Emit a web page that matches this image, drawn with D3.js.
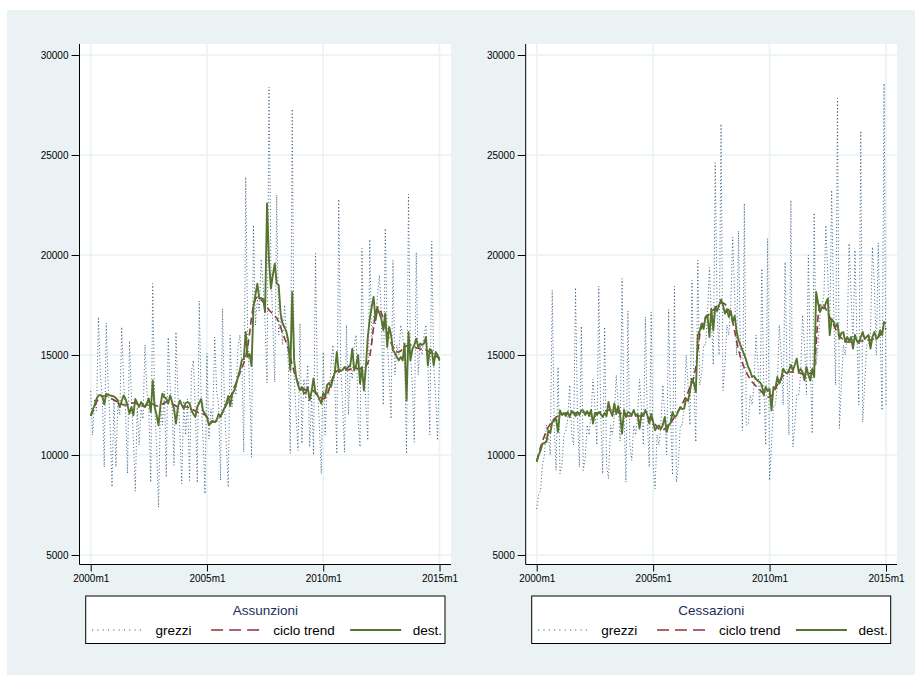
<!DOCTYPE html>
<html><head><meta charset="utf-8">
<script src="https://cdn.jsdelivr.net/npm/d3@7"></script>
<style>body{margin:0;background:#fff}svg{display:block}text{font-family:"Liberation Sans",Arial,Helvetica,sans-serif}</style>
</head><body><svg id="c" width="915" height="675"></svg>
<script>
const xTickIdx = [0, 60, 120, 180];
const xTickLabels = ["2000m1", "2005m1", "2010m1", "2015m1"];
const yTicks = [5000, 10000, 15000, 20000, 25000, 30000];
const seriesNames = ["grezzi", "ciclo trend", "dest."];
const panelTitles = ["Assunzioni", "Cessazioni"];

const assRaw = [
13200,11000,12800,12200,16900,14000,12900,9400,16600,13500,11600,8400,
12800,9400,12600,12000,16400,13600,12200,9080,15700,12900,10800,8190,
12400,10500,12300,11800,15500,13200,12300,8640,18570,12700,10400,7390,
12600,11500,13200,8890,15880,13400,12500,9480,16150,13000,11200,8560,
12700,11000,12800,8730,14200,14730,12200,8610,17700,12900,10800,8060,
15080,10800,12300,11800,15900,13200,12500,8730,17320,12600,10500,8390,
15980,12400,13500,13000,15330,16000,14500,10140,23900,16000,13500,9890,
21500,16500,17800,17200,19800,18500,16600,13600,28400,19500,16500,13650,
23000,16000,17000,15500,17500,16200,14500,10080,27300,14000,12000,10230,
16580,10570,13800,12800,14500,10400,13000,10000,20080,13500,11500,9060,
15150,11000,13500,13000,14500,15500,13500,10060,22790,14500,12500,10140,
16500,12000,14500,13800,15500,16000,11730,10400,20330,14500,12500,10730,
20780,15500,17000,16500,18000,19000,17000,12500,21330,16000,14000,11810,
19740,14000,15500,15000,16500,16000,15000,10060,23040,15000,13500,10640,
20130,14000,15500,15000,16000,16500,14500,11000,20690,14500,13000,10730,
14900];
const assTrend = [
11950,12150,12400,12650,12800,12900,12950,12950,12950,12900,12850,12800,
12750,12700,12650,12600,12550,12500,12500,12500,12550,12600,12600,12600,
12550,12500,12450,12450,12450,12500,12550,12550,12550,12500,12450,12450,
12500,12550,12600,12650,12650,12600,12550,12500,12450,12400,12400,12400,
12400,12400,12400,12350,12300,12250,12200,12150,12100,12100,12050,12000,
11900,11800,11700,11650,11650,11700,11800,11950,12100,12300,12500,12700,
12900,13100,13350,13600,13850,14100,14350,14600,14900,15400,16100,16900,
17500,17800,17900,17850,17750,17650,17550,17400,17250,17150,17050,16950,
16850,16650,16400,16100,15850,15600,15300,14900,14500,14150,13850,13600,
13450,13350,13300,13250,13250,13250,13250,13200,13150,13050,12950,12850,
12800,12850,13000,13300,13600,13900,14100,14200,14250,14250,14250,14250,
14250,14250,14300,14300,14350,14350,14300,14300,14350,14400,14450,14600,
14900,15600,16400,17100,17400,17350,17100,16800,16400,16100,15800,15600,
15400,15250,15150,15150,15200,15300,15400,15450,15500,15500,15450,15400,
15350,15350,15300,15300,15300,15250,15200,15150,15050,15000,14950,14900,
14850];
const assSa = [
11980,12250,12500,12800,12980,13000,12950,12530,13070,13000,12980,12950,
12930,12850,12730,12400,12700,12980,12800,12480,12070,12400,11980,12800,
12600,12400,12650,12500,12400,12600,12820,12150,13730,12400,12000,11480,
12480,13070,12900,12820,12570,12980,12650,12300,11570,12400,12730,12500,
12320,12600,12650,12570,12230,12050,11900,12400,12600,12800,12200,12070,
11900,11500,11600,11700,11650,11750,12050,11900,12150,12350,12600,12950,
12450,13050,13200,13500,13900,14250,14750,14800,16150,14900,15050,14450,
17400,18000,18570,17820,17850,17800,17150,22580,19740,18320,19000,19570,
18570,18500,17070,16580,16400,16150,15700,14230,18150,14730,13900,13500,
13230,13400,13080,13100,13400,12730,13200,13830,13080,13000,12800,12570,
13100,12900,13500,13600,13400,13800,14150,15150,14150,14200,14250,14400,
14300,14400,14500,15320,14230,14500,15000,13570,14400,13230,14400,15900,
16800,17400,17900,16740,17300,17090,16800,16240,17080,15400,16400,16000,
15230,15100,14900,14730,14900,14730,15570,12730,16150,14730,15300,15500,
15820,15400,15570,15500,15570,15900,14480,15300,15230,14480,15150,15000,
14730];

const cesRaw = [
7300,8000,8230,9500,10000,11500,11000,10000,18240,11500,9230,14400,
9060,9500,11000,11200,11800,13500,11070,10500,18370,12000,9400,16440,
9230,9800,11500,11000,12000,13800,12500,10500,18440,12000,9060,16400,
9500,8810,11500,11000,12000,14000,12500,10700,18820,12000,8640,17200,
10500,9730,11500,11000,12000,13800,12300,10500,16900,11800,9400,17150,
9500,8310,11000,10500,11500,13500,12000,10000,17270,11800,9000,18440,
8640,9500,11500,11500,12500,15000,13500,11500,18740,13500,10650,19740,
13500,14000,15500,15500,17000,19370,17000,14500,24610,17000,15000,26550,
13230,14500,16500,16000,17500,20900,18000,15000,21200,15000,11230,22580,
11500,11500,13000,12500,13500,16000,14500,12000,19320,13500,10500,20830,
8730,10500,12500,12500,13500,16500,15000,12500,19650,14000,11000,22740,
10400,11500,13000,13000,14000,17000,15500,13000,19990,14500,11070,22110,
14500,15500,17000,17500,18000,21490,19000,16000,23240,17500,13500,27830,
11320,13500,15500,15000,16000,20580,18000,15500,20240,16000,12500,26210,
11650,13500,15500,15500,16000,20400,18500,15000,20610,16000,12230,28580,
12500];
const cesTrend = [
9700,10050,10400,10700,10950,11200,11400,11550,11700,11800,11900,11950,
12000,12050,12050,12100,12100,12100,12100,12100,12100,12100,12100,12100,
12100,12100,12100,12100,12100,12100,12100,12100,12100,12150,12150,12200,
12200,12250,12250,12250,12200,12200,12150,12100,12050,12000,11950,11950,
11950,11950,11950,11950,11950,11950,11950,11950,11900,11900,11850,11800,
11700,11550,11400,11300,11250,11250,11300,11400,11500,11600,11750,11900,
12050,12200,12350,12550,12750,12950,13150,13400,13600,13900,14400,15200,
16000,16400,16650,16850,16950,17050,17150,17250,17350,17450,17550,17600,
17600,17550,17450,17250,17000,16650,16200,15700,15250,14900,14600,14350,
14150,13950,13800,13650,13550,13450,13350,13250,13150,13050,12950,12900,
12900,12950,13100,13300,13500,13700,13850,13950,14050,14100,14150,14150,
14150,14150,14150,14100,14100,14050,14050,14050,14050,14100,14150,14250,
15500,17000,17500,17600,17500,17300,17100,16900,16700,16500,16300,16100,
15950,15850,15750,15700,15650,15650,15650,15650,15700,15700,15700,15700,
15700,15700,15700,15750,15750,15800,15800,15850,15900,16000,16100,16200,
16350];
const cesSa = [
9650,10000,10230,10570,10600,10650,11230,11100,11650,11730,11800,11150,
12230,12000,12100,11950,12150,11900,12200,12100,11950,12150,12000,12230,
12230,12000,12200,11950,12250,11570,12100,12000,12150,12050,11900,12100,
11950,12650,12200,11950,12580,12050,12450,12000,11070,12250,11900,12150,
12100,12000,12250,11950,12050,11320,12100,11950,12250,12000,11570,12050,
11650,11230,11400,11480,11300,11500,11900,11150,11500,11600,12150,11900,
11950,12200,12400,12300,12320,12820,12700,13200,13820,13600,13150,15990,
16200,16570,16300,16900,17000,15900,17320,16230,17400,17200,17500,17770,
17500,17070,17300,16900,17200,16650,16950,16200,15740,15500,15240,15000,
14730,14400,14200,13900,13950,13800,13700,13650,13500,12980,13400,13200,
13300,12230,13400,13320,13900,13570,13800,14320,14150,14070,14230,14500,
14230,14500,14820,14150,14300,14150,13730,14400,14000,13730,14300,13900,
18150,17600,17150,17400,17320,17600,17820,15990,16800,16650,16400,16570,
15820,16100,16150,15650,15900,15700,15900,15320,16000,15700,15600,15900,
16150,15800,15900,16000,15320,15900,16150,15800,15900,16240,16000,16650,
16580];

const BG = "#eaf2f3";
const styles = [
  {color: "#1a476f", width: 1, dash: "1,2.4", op: 0.85, legDash: "1,4.3"},
  {color: "#90353b", width: 1.6, dash: "7,4", op: 1, legDash: "12,6"},
  {color: "#55752f", width: 1.9, dash: null, op: 1, legDash: null}
];

const svg = d3.select("#c");
svg.append("rect").attr("x",0).attr("y",0).attr("width",915).attr("height",675).attr("fill","#fff");
svg.append("rect").attr("x",7).attr("y",10).attr("width",908).attr("height",665).attr("fill",BG);

const panels = [
  {title: panelTitles[0], series: [assRaw, assTrend, assSa], axisX: 79.5, plotRight: 451, x0: 90.7, x1: 439.5, legend: [85.7, 445]},
  {title: panelTitles[1], series: [cesRaw, cesTrend, cesSa], axisX: 525.7, plotRight: 897, x0: 536.7, x1: 886, legend: [531.7, 890.7]}
];

panels.forEach(p => {
  const g = svg.append("g");
  const x = d3.scaleLinear().domain([0, 180]).range([p.x0, p.x1]);
  const y = d3.scaleLinear().domain([5000, 30000]).range([555, 55]);
  const top = 44, bottom = 564.5;
  g.append("rect").attr("x", p.axisX).attr("y", top).attr("width", p.plotRight - p.axisX).attr("height", bottom - top).attr("fill", "#fff");
  g.selectAll(".hg").data(yTicks).join("line")
    .attr("x1", p.axisX).attr("x2", p.plotRight).attr("y1", d => y(d)).attr("y2", d => y(d))
    .attr("stroke", BG).attr("stroke-width", 1.6);
  g.selectAll(".vg").data(xTickIdx).join("line")
    .attr("y1", top).attr("y2", bottom).attr("x1", d => x(d)).attr("x2", d => x(d))
    .attr("stroke", BG).attr("stroke-width", 1.6);
  p.series.forEach((s, i) => {
    const st = styles[i];
    const line = d3.line().x((d, j) => x(j)).y(d => y(d));
    g.append("path").datum(s).attr("d", line).attr("fill", "none")
      .attr("stroke", st.color).attr("stroke-width", st.width).attr("stroke-opacity", st.op)
      .attr("stroke-dasharray", st.dash).attr("stroke-linejoin", "round");
  });
  const yAxis = d3.axisLeft(y).tickValues(yTicks).tickSize(8).tickPadding(3).tickFormat(d3.format("d"));
  const ya = g.append("g").attr("transform", `translate(${p.axisX},0)`).call(yAxis);
  ya.select(".domain").attr("d", `M0,${top}V${bottom}`).attr("stroke", "#000");
  ya.selectAll("text").attr("font-size", 10).attr("fill", "#000");
  const xAxis = d3.axisBottom(x).tickValues(xTickIdx).tickSize(7).tickPadding(3).tickFormat((d, i) => xTickLabels[i]);
  const xa = g.append("g").attr("transform", `translate(0,${bottom})`).call(xAxis);
  xa.select(".domain").attr("d", `M${p.axisX},0H${p.plotRight}`).attr("stroke", "#000");
  xa.selectAll("text").attr("font-size", 10).attr("fill", "#000");
  const [lx0, lx1] = p.legend;
  const lg = g.append("g");
  lg.append("rect").attr("x", lx0).attr("y", 596).attr("width", lx1 - lx0).attr("height", 47.5)
    .attr("fill", "#fff").attr("stroke", "#000").attr("stroke-width", 1);
  lg.append("text").attr("x", (lx0 + lx1) / 2).attr("y", 615).attr("text-anchor", "middle")
    .attr("font-size", 13.5).attr("fill", "#1e2c5a").text(p.title);
  const w = lx1 - lx0;
  const itemPos = [[0.018, 0.158, 0.194], [0.349, 0.491, 0.522], [0.736, 0.878, 0.91]];
  seriesNames.forEach((name, i) => {
    const st = styles[i];
    const [a, b, t] = itemPos[i];
    lg.append("line").attr("x1", lx0 + a * w).attr("x2", lx0 + b * w).attr("y1", 630).attr("y2", 630)
      .attr("stroke", st.color).attr("stroke-width", st.width).attr("stroke-dasharray", st.legDash);
    lg.append("text").attr("x", lx0 + t * w).attr("y", 635).attr("font-size", 13.5).attr("fill", "#000").text(name);
  });
});
</script></body></html>
